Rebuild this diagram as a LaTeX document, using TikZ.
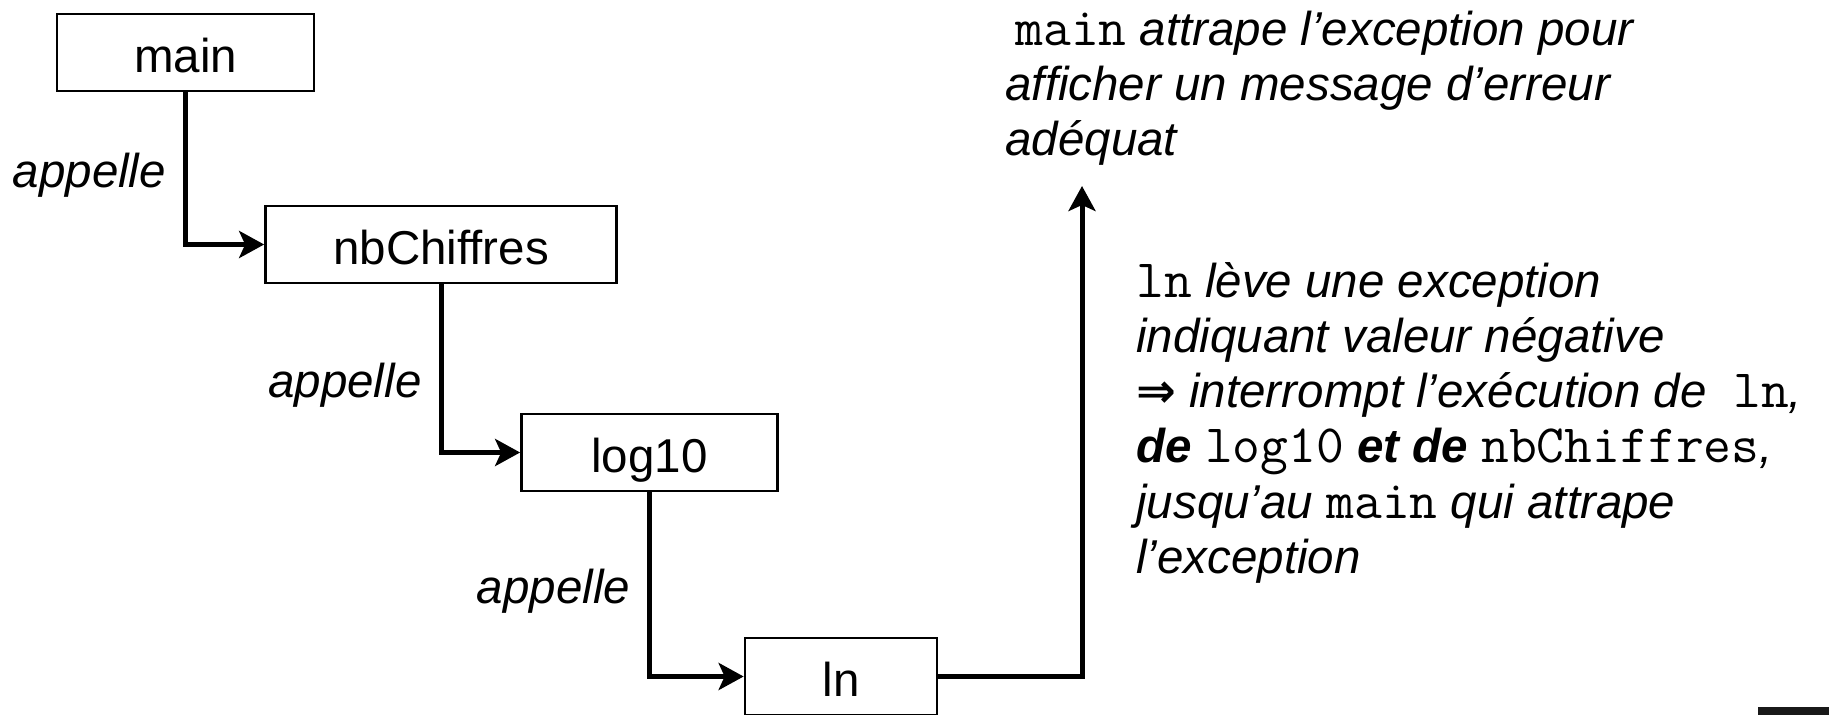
\documentclass[tikz,border=0pt]{standalone}
\usepackage{fontspec}
\setmainfont{Liberation Sans}
\newfontfamily\arrowfont{DejaVu Sans}
\usetikzlibrary{arrows.meta}
\newcommand\codetxt[1]{{\fontsize{27pt}{28pt}\selectfont\ttfamily\upshape #1}}
\newcommand\txtsize{\fontsize{23.75pt}{28pt}\selectfont}
\begin{document}
\begin{tikzpicture}[x=0.5pt,y=-0.5pt,
  box/.style={draw, line width=1.35pt, minimum height=38.5pt, inner sep=0pt,
              text height=20pt, text depth=0pt, font=\txtsize},
  conn/.style={line width=2.5pt, -{Stealth[length=12.5pt,width=13.5pt,inset=3pt]}},
  lbl/.style={font=\txtsize\itshape, inner sep=0pt},
  txtline/.style={anchor=base west, inner sep=0pt, font=\txtsize\itshape}]
\useasboundingbox (0,0) rectangle (1829,715);
% boxes
\node[box, minimum width=128.5pt] (main) at (185.5,52.5) {main};
\node[box, minimum width=175.5pt] (nb) at (441,244.5) {nbChiffres};
\node[box, minimum width=128pt] (log) at (649.5,452.5) {log10};
\node[box, minimum width=96pt] (ln) at (841,676.5) {ln};
% calls
\draw[conn] (main.south) |- node[lbl, pos=0.25, anchor=east, xshift=-8.5pt, yshift=-3.5pt] (a1) {appelle} (nb.west);
\draw[conn] (nb.south) |- node[lbl, pos=0.27, anchor=east, xshift=-8.5pt, yshift=-5pt] (a2) {appelle} (log.west);
\draw[conn] (log.south) |- node[lbl, pos=0.25, anchor=east, xshift=-8.5pt, yshift=-3.5pt] (a3) {appelle} (ln.west);
% exception propagation
\coordinate (catch) at (1082,186);
\draw[conn] (ln.east) -| (catch);
% top-right text
\node[txtline] (t1) at (1015,46) {\codetxt{main} attrape l’exception pour};
\node[txtline] (t2) at (1005,101) {afficher un message d’erreur};
\node[txtline] (t3) at (1005,156) {adéquat};
% right text
\node[txtline] (u1) at (1136,298) {\codetxt{ln} lève une exception};
\node[txtline] (u2) at (1136,353) {indiquant valeur négative};
\node[txtline] (u3) at (1136,408) {{\arrowfont\bfseries ⇒} interrompt l’exécution de~~\codetxt{ln},};
\node[txtline] (u4) at (1136,463) {\textbf{de} \codetxt{log10} \textbf{et de} \codetxt{nbChiffres},};
\node[txtline] (u5) at (1136,518) {jusqu’au \codetxt{main} qui attrape};
\node[txtline] (u6) at (1136,573) {l’exception};
% corner mark
\fill[black!90] (1758,707) rectangle (1829,715);
\end{tikzpicture}
\end{document}
